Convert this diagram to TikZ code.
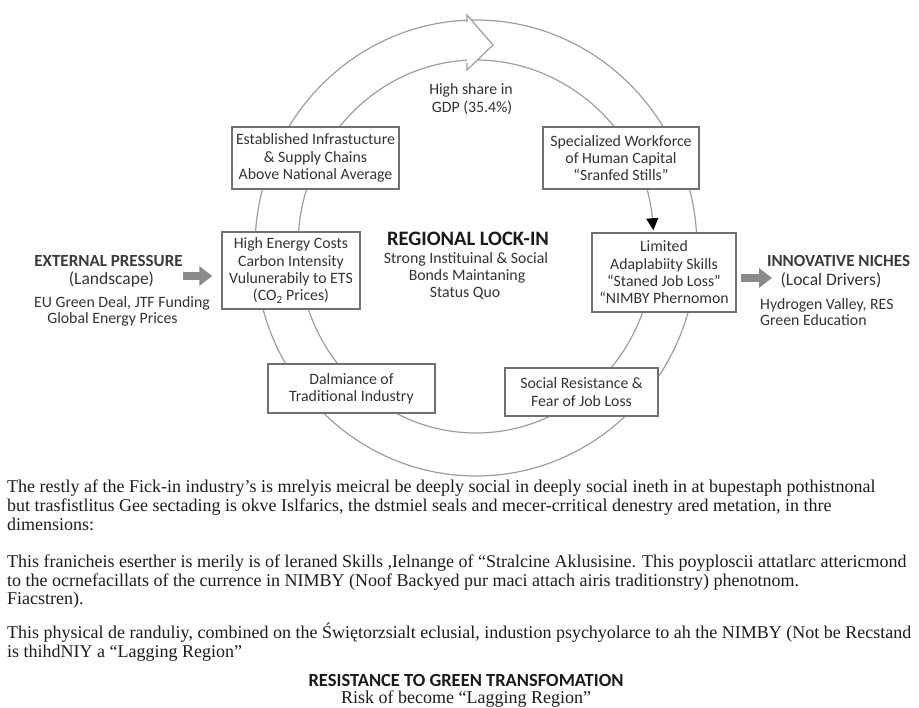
\documentclass[tikz,border=0pt]{standalone}
\usepackage{fontspec}
\setmainfont{Liberation Serif}
\newfontfamily\diagfont{Carlito}
\usetikzlibrary{arrows.meta}

\definecolor{ringgray}{HTML}{9E9E9E}
\definecolor{boxgray}{HTML}{707070}
\definecolor{labelgray}{HTML}{333333}
\definecolor{sidehead}{HTML}{3A3A3A}
\definecolor{headink}{HTML}{1A1A1A}
\definecolor{bodyink}{HTML}{1C1C1C}
\definecolor{arrowgray}{HTML}{8A8A8A}

\begin{document}
\begin{tikzpicture}[x=1pt,y=-1pt,
  ring/.style={draw=ringgray, line width=1.2pt},
  stage/.style={draw=boxgray, line width=1.4pt, fill=white, align=center,
    inner sep=1pt, text=labelgray,
    font=\diagfont\fontsize{15.8}{17.3}\selectfont},
  plain/.style={inner sep=0pt, anchor=base, text=labelgray,
    font=\diagfont\fontsize{15.8}{17.3}\selectfont},
  sub/.style={plain, font=\diagfont\fontsize{17.5}{19}\selectfont},
  head/.style={plain, text=sidehead, font=\diagfont\bfseries\fontsize{17}{19}\selectfont},
  push/.style={line width=8pt, draw=arrowgray,
    -{Triangle[length=13pt, width=19pt, fill=arrowgray]}},
  para/.style={inner sep=0pt, anchor=base west, text=bodyink,
    font=\fontsize{18}{19}\selectfont}
]
% page
\fill[white] (0,0) rectangle (919,708);
\useasboundingbox (0,0) rectangle (919,708);

% ---- the lock-in cycle: a hollow ring arrow ----
\draw[ring] (476,248) ellipse [x radius=221, y radius=228];
\draw[ring, -{Triangle[length=12pt, width=12pt, color=black]}]
  (476,246.5) ++(-91:178 and 186.5)
  arc[start angle=-91, end angle=-5, x radius=178, y radius=186.5];
\draw[ring] (476,246.5) ++(0:178 and 186.5)
  arc[start angle=0, end angle=267.5, x radius=178, y radius=186.5];
% arrow head at the top of the ring
\filldraw[ring, fill=white] (467,22) -- (467,15) -- (493,45) -- (467,70) -- (467,63);

\node[plain] at (471,95) {High share in};
\node[plain] at (472,113) {GDP (35.4\%)};

% ---- stages of the cycle ----
\node[stage, minimum width=167pt, minimum height=62pt] (infra) at (315.5,158)
  {Established Infrastucture\\ \& Supply Chains\\ Above National Average};
\node[stage, minimum width=156pt, minimum height=62pt] (work) at (621,158)
  {Specialized Workforce\\ of Human Capital\\ “Sranfed Stills”};
\node[stage, minimum width=138pt, minimum height=77pt] (cost) at (291,270.5)
  {High Energy Costs\\ Carbon Intensity\\ Vulunerabily to ETS\\ (CO\textsubscript{2} Prices)};
\node[stage, minimum width=144pt, minimum height=79pt] (lim) at (664,272.5)
  {Limited\\ Adaplabiity Skills\\ “Staned Job Loss”\\ “NIMBY Phernomon};
\node[stage, minimum width=167pt, minimum height=49pt] (dom) at (351.5,388.5)
  {Dalmiance of\\ Traditional Industry};
\node[stage, minimum width=153pt, minimum height=48pt] (fear) at (581.5,392)
  {Social Resistance \&\\ Fear of Job Loss};

% ---- centre label ----
\node[plain, text=headink, font=\diagfont\bfseries\fontsize{20.5}{22}\selectfont] (lock) at (468,246) {REGIONAL LOCK-IN};
\node[plain] (lock1) at (466,264) {Strong Instituinal \& Social};
\node[plain] (lock2) at (467,281) {Bonds Maintaning};
\node[plain] (lock3) at (465,298) {Status Quo};

% ---- landscape pressure (left) ----
\node[head] (ext) at (108.5,266.5) {EXTERNAL PRESSURE};
\node[sub] (ext1) at (111.5,285) {(Landscape)};
\node[plain] (ext2) at (122,308) {EU Green Deal, JTF Funding};
\node[plain] (ext3) at (112.5,324) {Global Energy Prices};
\coordinate (extarr) at (183,276);
\draw[push, shorten >=9pt] (extarr) -- (cost.west |- extarr);

% ---- innovative niches (right) ----
\node[head] (niche) at (838.5,266.5) {INNOVATIVE NICHES};
\node[sub] (niche1) at (831,286) {(Local Drivers)};
\node[plain, anchor=base west] (niche2) at (760,310) {Hydrogen Valley, RES};
\node[plain, anchor=base west] (niche3) at (760,326) {Green Education};
\coordinate (nichearr) at (772,278);
\draw[push, shorten <=4pt] (lim.east |- nichearr) -- (nichearr);

% ---- explanatory text ----
\node[para] (p1a) at (7,493) {The restly af the Fick-in industry’s is mrelyis meicral be deeply social in deeply social ineth in at bupestaph pothistnonal};
\node[para] (p1b) at (7,512) {but trasfistlitus Gee sectading is okve Islfarics, the dstmiel seals and mecer-crritical denestry ared metation, in thre};
\node[para] (p1c) at (7,530) {dimensions:};
\node[para] (p2a) at (7,568) {This franicheis eserther is merily is of leraned Skills ,Ielnange of “Stralcine Aklusisine. This poyploscii attatlarc attericmond};
\node[para] (p2b) at (7,586) {to the ocrnefacillats of the currence in NIMBY (Noof Backyed pur maci attach airis traditionstry) phenotnom.};
\node[para] (p2c) at (7,604) {Fiacstren).};
\node[para] (p3a) at (7,638) {This physical de randuliy, combined on the Świętorzsialt eclusial, industion psychyolarce to ah the NIMBY (Not be Recstand};
\node[para] (p3b) at (7,657) {is thihdNIY a “Lagging Region”};

\node[plain, text=headink, font=\diagfont\bfseries\fontsize{18.5}{20}\selectfont] (res) at (466,686) {RESISTANCE TO GREEN TRANSFOMATION};
\node[inner sep=0pt, anchor=base, text=bodyink, font=\fontsize{18}{19}\selectfont] (risk) at (466,703) {Risk of become “Lagging Region”};
\end{tikzpicture}
\end{document}
